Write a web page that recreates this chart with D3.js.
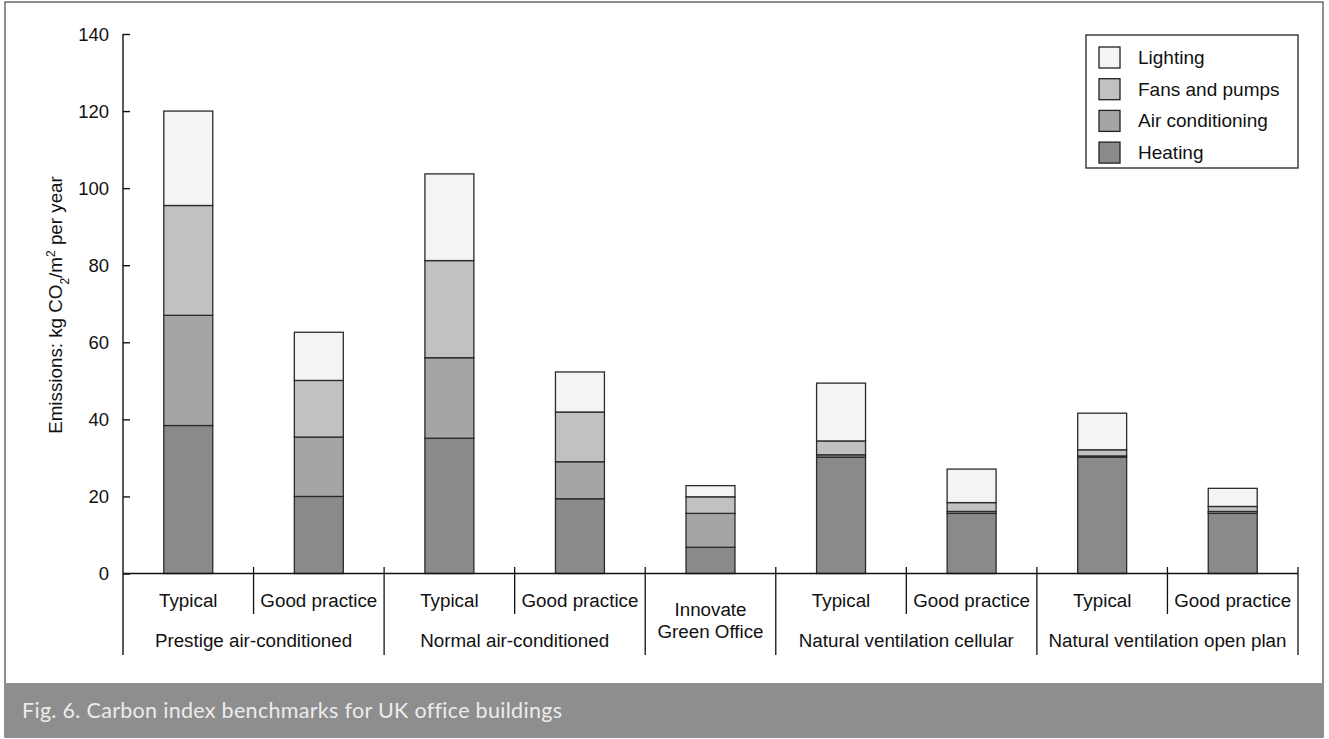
<!DOCTYPE html>
<html>
<head>
<meta charset="utf-8">
<script src="https://cdn.jsdelivr.net/npm/d3@7"></script>
<style>
  html, body { margin: 0; padding: 0; background: #fff; }
  svg { display: block; }
  text { font-family: "Liberation Sans", Arial, sans-serif; fill: #111; }
</style>
</head>
<body>
<svg id="chart" width="1329" height="739"></svg>
<script>
// Carbon index benchmarks (kg CO2/m2 per year), stacked by end use
const barLabels = ["Typical", "Good practice", "Typical", "Good practice", "Innovate Green Office",
                   "Typical", "Good practice", "Typical", "Good practice"];
const groupLabels = ["Prestige air-conditioned", "Normal air-conditioned", "Innovate\nGreen Office",
                     "Natural ventilation cellular", "Natural ventilation open plan"];
const groupSpans = [[0, 1], [2, 3], [4, 4], [5, 6], [7, 8]];
const seriesNames = ["Heating", "Air conditioning", "Fans and pumps", "Lighting"];
const heating        = [38.4, 20.0, 35.1, 19.4, 6.8, 30.2, 15.6, 30.2, 15.6];
const airConditioning = [28.6, 15.4, 20.9, 9.6, 8.8, 0.6, 0.5, 0.3, 0.5];
const fansAndPumps   = [28.5, 14.7, 25.2, 12.9, 4.3, 3.6, 2.3, 1.6, 1.3];
const lighting       = [24.5, 12.5, 22.5, 10.4, 2.9, 15.0, 8.7, 9.5, 4.7];
const yTicks = [0, 20, 40, 60, 80, 100, 120, 140];

const svg = d3.select("#chart");
const fills = {
  "Heating": "#8a8a8a",
  "Air conditioning": "#a5a5a5",
  "Fans and pumps": "#c1c1c1",
  "Lighting": "#f4f4f4"
};

// page frame and caption band
svg.append("rect").attr("x", 5).attr("y", 2).attr("width", 1318).attr("height", 735)
  .attr("fill", "#fff").attr("stroke", "#444").attr("stroke-width", 1.2);
svg.append("rect").attr("x", 5).attr("y", 683).attr("width", 1318).attr("height", 54)
  .attr("fill", "#8e8e8e");
svg.append("text").attr("x", 22).attr("y", 718)
  .style("font-family", "Lato, 'Open Sans', sans-serif").style("font-size", "21.5px")
  .style("letter-spacing", "0.3px")
  .style("fill", "#ececec")
  .text("Fig. 6. Carbon index benchmarks for UK office buildings");

const x0 = 123, x1 = 1298;
const y = d3.scaleLinear().domain([0, 140]).range([573.5, 34]);
const idx = d3.range(barLabels.length);
const x = d3.scaleBand().domain(idx).range([x0, x1]).paddingInner(0.625).paddingOuter(0.3125);
const step = x.step();

// stacked data
const rows = idx.map(i => ({
  i,
  "Heating": heating[i],
  "Air conditioning": airConditioning[i],
  "Fans and pumps": fansAndPumps[i],
  "Lighting": lighting[i]
}));
const stack = d3.stack().keys(seriesNames)(rows);

const bars = svg.append("g");
stack.forEach(layer => {
  bars.selectAll(null).data(layer).enter().append("rect")
    .attr("x", d => x(d.data.i))
    .attr("width", x.bandwidth())
    .attr("y", d => y(d[1]))
    .attr("height", d => y(d[0]) - y(d[1]))
    .attr("fill", fills[layer.key])
    .attr("stroke", "#2a2a2a")
    .attr("stroke-width", 1.3);
});

// y axis
const yAxis = d3.axisRight(y).tickValues(yTicks).tickSize(7).tickFormat(d3.format("d"));
const gy = svg.append("g").attr("transform", `translate(${x0},0)`).call(yAxis);
gy.select(".domain").remove();
gy.selectAll(".tick line").attr("stroke", "#111").attr("stroke-width", 1.4);
gy.selectAll(".tick text").attr("x", -14).attr("text-anchor", "end")
  .style("font-size", "18.5px").style("font-family", "'Liberation Sans', Arial, sans-serif")
  .attr("dy", "0.35em").attr("fill", "#111");
svg.append("line").attr("x1", x0).attr("x2", x0).attr("y1", y(140)).attr("y2", 655)
  .attr("stroke", "#111").attr("stroke-width", 1.4);

// baseline
svg.append("line").attr("x1", x0).attr("x2", x1).attr("y1", y(0)).attr("y2", y(0))
  .attr("stroke", "#111").attr("stroke-width", 1.4);

// category dividers
const groupEdges = new Set([0]);
groupSpans.forEach(s => groupEdges.add(s[1] + 1));
for (let k = 1; k <= barLabels.length; k++) {
  const xx = x0 + k * step;
  svg.append("line").attr("x1", xx).attr("x2", xx).attr("y1", 567)
    .attr("y2", groupEdges.has(k) ? 655 : 614)
    .attr("stroke", "#111").attr("stroke-width", 1.3);
}

// bar labels (first row)
idx.forEach(i => {
  if (barLabels[i] === "Innovate Green Office") return;
  svg.append("text").attr("x", x(i) + x.bandwidth() / 2).attr("y", 607)
    .attr("text-anchor", "middle").style("font-size", "18.8px").text(barLabels[i]);
});

// group labels (second row)
groupSpans.forEach((s, g) => {
  const cx = x0 + (s[0] + s[1] + 1) / 2 * step;
  const lines = groupLabels[g].split("\n");
  if (lines.length === 2) {
    svg.append("text").attr("x", cx).attr("y", 616).attr("text-anchor", "middle")
      .style("font-size", "18.8px").text(lines[0]);
    svg.append("text").attr("x", cx).attr("y", 638).attr("text-anchor", "middle")
      .style("font-size", "18.8px").text(lines[1]);
  } else {
    svg.append("text").attr("x", cx).attr("y", 647).attr("text-anchor", "middle")
      .style("font-size", "18.8px").text(lines[0]);
  }
});

// y axis title
const yt = svg.append("text").attr("transform", "translate(62,305) rotate(-90)")
  .attr("text-anchor", "middle").style("font-size", "18.8px");
yt.append("tspan").text("Emissions: kg CO");
yt.append("tspan").attr("baseline-shift", "sub").style("font-size", "12px").text("2");
yt.append("tspan").text("/m");
yt.append("tspan").attr("baseline-shift", "super").style("font-size", "12px").text("2");
yt.append("tspan").text(" per year");

// legend
const lg = svg.append("g");
lg.append("rect").attr("x", 1086).attr("y", 35).attr("width", 212).attr("height", 133)
  .attr("fill", "#fff").attr("stroke", "#222").attr("stroke-width", 1.3);
const legendOrder = ["Lighting", "Fans and pumps", "Air conditioning", "Heating"];
legendOrder.forEach((name, k) => {
  const yy = 47 + k * 31.7;
  lg.append("rect").attr("x", 1099).attr("y", yy).attr("width", 21).attr("height", 21)
    .attr("fill", fills[name]).attr("stroke", "#222").attr("stroke-width", 1.3);
  lg.append("text").attr("x", 1138).attr("y", yy + 17).style("font-size", "19px").text(name);
});
</script>
</body>
</html>
